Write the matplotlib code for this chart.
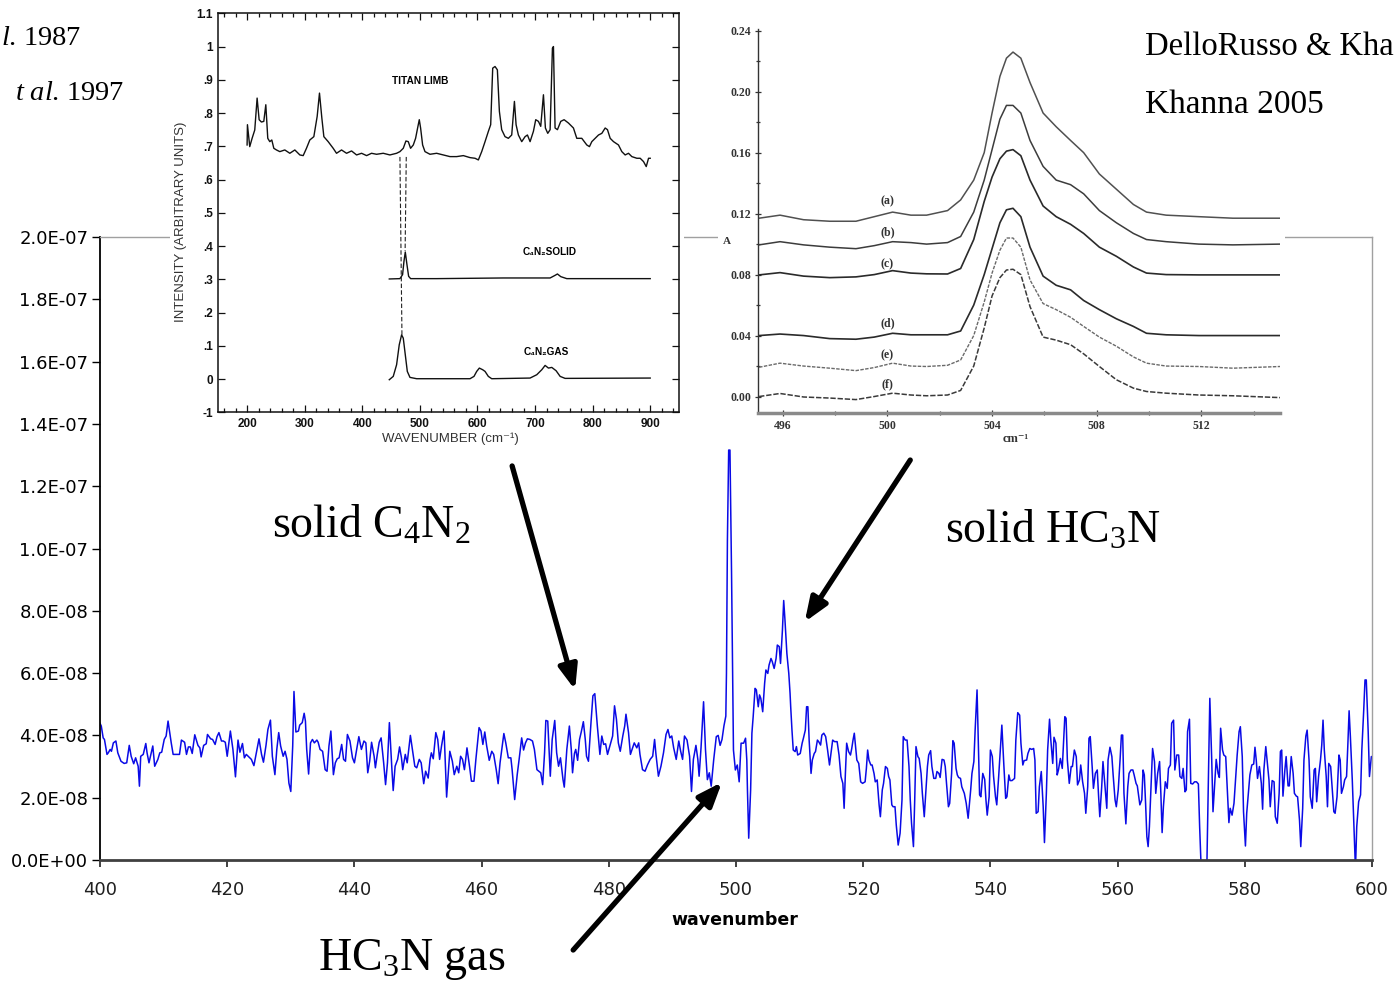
import numpy as np
import matplotlib
matplotlib.use("Agg")
import matplotlib.pyplot as plt
from matplotlib.patches import Rectangle
from matplotlib.ticker import FuncFormatter, MultipleLocator, FixedLocator

plt.rcParams['mathtext.fontset'] = 'custom'
plt.rcParams['mathtext.rm'] = 'Liberation Serif'
plt.rcParams['mathtext.it'] = 'Liberation Serif:italic'
plt.rcParams['mathtext.bf'] = 'Liberation Serif:bold'

# ---------------- main spectrum (wavenumber, intensity in 1e-9 units) ----------------
seg1_wn = [400.0, 400.2, 400.5, 400.7, 401.1, 401.3, 401.6, 401.8, 402.1, 402.5,
           402.8, 403.3, 403.8, 404.2, 404.6, 404.9, 405.3, 405.6, 406.0, 406.2,
           406.4, 406.8, 407.2, 407.4, 407.7, 408.0, 408.3, 408.6, 409.1, 409.4,
           409.7, 410.1, 410.4, 410.7, 411.2, 411.5, 411.9, 412.5, 412.8, 413.3,
           413.6, 413.9, 414.2, 414.5, 414.9, 415.4, 415.7, 415.9, 416.3, 416.7,
           416.9, 417.4, 417.7, 418.1, 418.4, 418.7, 419.1, 419.4, 419.7, 420.0,
           420.5, 420.9, 421.3, 421.7, 422.0, 422.4, 422.7, 423.0, 423.4, 423.8,
           424.2, 424.6, 425.0, 425.4, 425.7, 426.1, 426.4, 426.8, 427.1, 427.5,
           427.8, 428.1, 428.4, 428.8, 429.1, 429.4, 429.7, 430.0, 430.3, 430.5,
           430.8, 431.2, 431.4, 431.8, 432.1, 432.3, 432.5, 432.8, 433.1, 433.4,
           433.7, 434.1, 434.3, 434.6, 435.0, 435.4, 435.7, 436.0, 436.3, 436.7,
           437.0, 437.3, 437.6, 438.0, 438.3, 438.6, 438.9, 439.3, 439.7, 440.0,
           440.4, 440.7, 441.1, 441.5, 441.8, 442.1, 442.4, 442.7, 443.1, 443.3,
           443.6, 443.9, 444.2, 444.6, 444.9, 445.2, 445.5, 445.9, 446.1, 446.4,
           446.8, 447.1, 447.4, 447.6, 448.0, 448.3, 448.8, 449.2, 449.5, 449.8,
           450.2, 450.5, 450.9, 451.2]
seg1_val = [43.9, 43.0, 39.2, 38.7, 33.9, 34.4, 35.5, 34.9, 37.6, 38.2,
            34.4, 31.7, 31.0, 31.2, 36.8, 33.3, 30.9, 32.8, 30.1, 23.7,
            33.3, 33.9, 37.4, 34.4, 31.2, 33.9, 36.6, 30.1, 32.3, 34.4,
            34.6, 38.7, 39.8, 44.6, 37.6, 33.9, 33.9, 33.9, 38.5, 37.8,
            33.9, 36.3, 36.3, 34.2, 40.2, 36.8, 36.0, 33.1, 36.8, 37.3,
            40.3, 38.9, 38.7, 37.1, 39.6, 40.9, 38.2, 38.2, 37.8, 33.3,
            41.4, 35.5, 26.7, 38.5, 34.6, 37.4, 32.8, 33.9, 33.1, 32.3,
            30.3, 34.6, 38.9, 33.9, 31.4, 36.8, 41.9, 44.9, 33.3, 27.4,
            35.5, 40.9, 36.6, 33.3, 34.9, 32.3, 24.7, 22.0, 36.6, 54.1,
            41.1, 41.4, 43.3, 44.1, 47.1, 44.6, 35.5, 27.6, 37.6, 38.7,
            37.6, 38.5, 37.8, 35.5, 34.9, 29.0, 28.5, 36.6, 41.4, 27.4,
            31.2, 32.5, 32.8, 37.1, 32.3, 31.7, 40.3, 38.2, 32.8, 31.2,
            36.0, 39.6, 35.5, 38.2, 37.6, 28.0, 31.7, 37.8, 33.3, 29.6,
            33.9, 37.8, 39.2, 31.2, 24.2, 31.2, 44.1, 29.0, 22.3, 30.1,
            32.3, 36.3, 32.8, 29.0, 33.9, 31.2, 40.0, 34.4, 30.1, 29.6,
            32.3, 31.2, 24.5, 28.5]

seg2_wn = [451.6, 451.9, 452.1, 452.4, 452.8, 453.1, 453.4, 453.7, 454.1, 454.5,
           455.0, 455.4, 455.7, 456.1, 456.4, 456.7, 457.0, 457.3, 457.5, 457.7,
           458.1, 458.4, 458.8, 459.1, 459.6, 459.9, 460.2, 460.5, 460.8, 461.2,
           461.6, 461.9, 462.3, 462.6, 462.9, 463.3, 463.5, 463.8, 464.2, 464.6,
           464.8, 465.2, 465.6, 465.9, 466.3, 466.6, 466.9, 467.2, 467.6, 468.0,
           468.3, 468.7, 469.0, 469.3, 469.6, 469.9, 470.1, 470.4, 470.8, 471.1,
           471.5, 471.8, 472.1, 472.4, 472.8, 473.0, 473.4, 473.8, 474.1, 474.3,
           474.6, 474.8, 475.1, 475.4, 475.7, 476.0, 476.3, 476.5, 476.8, 477.2,
           477.5, 477.8, 478.2, 478.6, 478.9, 479.2, 479.5, 479.8, 480.2, 480.6,
           480.9, 481.2, 481.5, 481.8, 482.2, 482.5, 482.7, 483.1, 483.4, 483.7,
           484.0, 484.4, 484.7, 484.9, 485.3, 485.7, 486.1, 486.5, 486.9, 487.2,
           487.4, 487.8, 488.2, 488.6, 489.0, 489.3, 489.6, 489.9, 490.2, 490.6,
           491.0, 491.3, 491.6, 491.9, 492.3, 492.7, 493.0, 493.3, 493.7, 494.0,
           494.2, 494.5, 494.9, 495.2, 495.5, 495.8, 496.1, 496.5, 496.9, 497.2,
           497.5, 497.8, 498.1, 498.4]
seg2_val = [26.3, 32.3, 34.4, 32.5, 40.9, 38.7, 32.3, 36.6, 41.4, 20.2,
            34.9, 31.7, 27.4, 30.1, 28.0, 33.3, 32.3, 29.0, 32.3, 36.0,
            30.1, 25.3, 25.3, 32.3, 42.5, 41.4, 37.1, 41.1, 36.6, 32.0,
            34.9, 33.9, 29.0, 24.5, 31.2, 37.6, 40.6, 37.6, 32.8, 32.8,
            29.0, 19.4, 27.4, 32.3, 39.2, 35.3, 37.6, 38.9, 38.7, 38.2,
            35.5, 29.0, 28.5, 28.0, 24.2, 34.4, 44.8, 44.6, 26.9, 38.7,
            44.8, 34.4, 30.1, 32.8, 25.8, 23.4, 35.5, 43.0, 35.5, 28.0,
            34.2, 35.5, 32.0, 38.7, 41.4, 44.4, 38.7, 33.3, 31.7, 44.1,
            52.7, 53.4, 43.0, 33.9, 39.8, 37.1, 37.3, 33.9, 36.8, 39.8,
            49.5, 45.2, 37.6, 34.9, 39.8, 43.0, 46.8, 40.9, 33.9, 35.7,
            37.6, 36.0, 37.6, 33.9, 29.0, 28.5, 30.6, 32.3, 33.3, 38.7,
            34.2, 26.9, 30.1, 34.4, 40.3, 41.9, 39.2, 39.8, 36.0, 32.3,
            38.2, 34.9, 32.3, 39.8, 38.5, 33.3, 22.0, 32.3, 36.8, 32.3,
            26.9, 36.0, 50.8, 35.5, 25.8, 28.0, 23.7, 32.3, 39.6, 40.0,
            36.8, 38.7, 43.0, 46.2]

seg3_wn = [498.5, 498.65, 498.85, 499.05, 499.3, 499.6, 499.9, 500.2, 500.5, 500.8,
           501.2, 501.5, 501.7, 501.8, 502.0, 502.3, 502.5, 502.7, 503.0, 503.2,
           503.5, 503.7, 503.9, 504.2, 504.5, 504.7, 505.0, 505.2, 505.5, 505.7,
           506.0, 506.3, 506.5, 506.8, 507.0, 507.3, 507.5, 507.7, 508.0, 508.3,
           508.5, 508.6, 508.8, 509.0, 509.3, 509.5, 509.7, 510.1, 510.4, 510.6,
           510.9, 511.1, 511.3, 511.5, 511.8, 512.0, 512.3, 512.5, 512.8, 513.0,
           513.3, 513.5, 513.8, 514.1, 514.4, 514.7, 515.0, 515.2, 515.5, 515.9,
           516.2, 516.5, 516.8, 517.0, 517.2, 517.4, 517.7, 518.0, 518.2, 518.4,
           518.6, 519.0, 519.3, 519.6, 519.9, 520.3, 520.5, 520.7, 520.9, 521.2,
           521.4, 521.7, 521.9, 522.2, 522.5, 522.7, 523.0, 523.2, 523.5, 523.8,
           524.0, 524.2, 524.5, 524.7, 525.0, 525.2, 525.5, 525.8]
seg3_val = [59.9, 102.7, 131.6, 131.6, 92.0, 35.3, 28.9, 30.5, 25.1, 37.5,
            37.5, 39.1, 32.1, 22.5, 7.0, 22.5, 40.7, 46.0, 55.1, 54.6,
            49.2, 53.0, 51.9, 47.6, 56.7, 61.0, 59.9, 62.6, 64.7, 63.7,
            61.5, 64.7, 69.0, 68.5, 63.1, 73.8, 83.3, 77.0, 66.3, 59.9,
            53.5, 49.2, 41.7, 35.3, 34.8, 36.4, 33.7, 34.2, 37.5, 39.1,
            41.7, 49.2, 49.2, 38.5, 27.8, 32.1, 34.2, 34.8, 38.5, 38.0,
            36.9, 40.1, 40.7, 39.6, 35.3, 30.5, 35.3, 38.5, 38.0, 38.0,
            33.7, 26.8, 24.6, 16.6, 27.8, 37.5, 34.8, 33.7, 35.8, 38.5,
            40.7, 32.1, 31.0, 25.1, 24.6, 25.1, 29.4, 35.3, 32.1, 30.5,
            30.5, 27.8, 25.1, 25.7, 17.7, 13.9, 22.5, 24.6, 30.0, 29.4,
            26.8, 25.7, 17.7, 17.1, 17.1, 11.2, 4.8, 8.6]

seg4_wn = [526.1, 526.3, 526.6, 526.9, 527.2, 527.4, 527.6, 527.9, 528.1, 528.3,
           528.6, 528.8, 529.1, 529.3, 529.6, 529.8, 530.1, 530.3, 530.6, 530.8,
           531.1, 531.4, 531.6, 531.9, 532.1, 532.4, 532.7, 532.9, 533.1, 533.4,
           533.6, 533.9, 534.1, 534.3, 534.6, 534.8, 535.0, 535.3, 535.5, 535.9,
           536.2, 536.5, 536.9, 537.1, 537.4, 537.6, 537.9, 538.1, 538.3, 538.5,
           538.8, 539.1, 539.3, 539.5, 539.8, 540.0, 540.3, 540.5, 540.8, 541.0,
           541.3, 541.6, 541.8, 542.1, 542.4, 542.6, 542.9, 543.1, 543.4, 543.8,
           544.0, 544.3, 544.6, 544.8, 545.1, 545.3, 545.7, 545.9, 546.2, 546.5,
           546.8, 547.0, 547.2, 547.5, 547.7, 548.0, 548.3, 548.5, 548.8, 549.0,
           549.3, 549.5, 549.8, 550.0, 550.3, 550.5, 550.7, 551.0, 551.3, 551.5,
           551.7, 551.9, 552.1, 552.4, 552.7, 552.9, 553.2, 553.5, 553.7, 554.0,
           554.2, 554.5, 554.8, 555.0, 555.3, 555.5, 555.7, 556.0, 556.2, 556.5,
           556.8, 557.0, 557.2, 557.5, 557.7, 558.0, 558.3, 558.5, 558.8, 559.1,
           559.3, 559.6, 559.8, 560.1, 560.4, 560.6, 560.8, 561.0, 561.3, 561.6,
           561.8, 562.1, 562.4, 562.6, 562.9, 563.1, 563.5]
seg4_val = [19.3, 39.6, 38.5, 38.5, 30.0, 19.3, 11.8, 4.3, 19.3, 36.4,
            33.2, 32.6, 27.8, 21.4, 13.9, 20.3, 30.0, 33.7, 35.1, 30.0,
            26.2, 26.2, 28.4, 27.8, 26.5, 32.3, 32.1, 30.0, 24.6, 17.1,
            18.2, 27.8, 38.3, 37.5, 29.4, 27.3, 26.5, 26.2, 23.5, 21.4,
            18.2, 13.4, 22.5, 27.8, 31.6, 41.7, 54.6, 37.5, 20.9, 20.3,
            27.8, 25.9, 19.3, 14.4, 20.3, 35.3, 33.2, 26.8, 20.3, 17.7,
            26.8, 36.9, 43.3, 31.0, 19.8, 20.3, 27.3, 25.5, 25.5, 26.2,
            38.5, 47.3, 46.5, 37.5, 30.5, 31.9, 32.1, 34.2, 35.8, 35.5,
            35.8, 32.1, 15.0, 15.5, 23.5, 28.4, 17.1, 5.6, 21.4, 35.3,
            45.2, 38.5, 31.0, 39.4, 37.5, 27.3, 28.9, 32.6, 29.4, 38.0,
            46.0, 45.5, 32.1, 24.6, 30.0, 30.0, 35.3, 33.2, 24.1, 25.7,
            30.5, 25.1, 21.4, 15.0, 23.5, 39.1, 39.6, 30.0, 23.0, 27.8,
            28.9, 20.9, 13.9, 23.5, 31.6, 24.1, 16.6, 32.1, 36.2, 33.2,
            27.3, 19.3, 17.1, 22.5, 32.6, 40.1, 40.1, 21.4, 11.6, 23.5,
            27.8, 28.9, 28.9, 27.3, 24.6, 23.8, 17.7]

seg5_wn = [563.8, 564.0, 564.2, 564.4, 564.6, 564.8, 565.0, 565.3, 565.5, 565.8,
           566.0, 566.3, 566.6, 566.8, 567.0, 567.2, 567.5, 567.8, 568.0, 568.3,
           568.5, 568.8, 569.0, 569.3, 569.6, 569.8, 570.1, 570.3, 570.6, 570.8,
           571.0, 571.3, 571.5, 571.8, 572.1, 572.4, 572.7, 572.9, 573.2, 574.0,
           574.5, 574.8, 575.0, 575.3, 575.5, 575.8, 576.0, 576.2, 576.5, 576.7,
           577.0, 577.3, 577.5, 577.7, 578.0, 578.3, 578.5, 578.8, 579.1, 579.3,
           579.6, 579.8, 580.1, 580.3, 580.6, 580.8, 581.1, 581.4, 581.6, 581.8,
           582.0, 582.3, 582.6, 582.8, 583.0, 583.3, 583.5, 583.8, 584.0, 584.3,
           584.6, 584.8, 585.1, 585.4, 585.6, 585.8, 586.0, 586.3, 586.5, 586.8,
           587.0, 587.3, 587.6, 587.8, 588.1, 588.3, 588.6, 588.8, 589.1, 589.3,
           589.6, 589.8, 590.1, 590.3, 590.6, 590.9, 591.1, 591.3, 591.6, 591.9,
           592.1, 592.3, 592.5, 592.8, 593.0, 593.2, 593.5, 593.7, 594.0, 594.2,
           594.5, 594.8, 595.0, 595.2, 595.5, 595.7, 596.0, 596.2, 596.4, 596.6,
           596.9, 597.2, 597.4, 597.6, 597.9, 598.2, 598.4, 598.7, 598.9, 599.1,
           599.4, 599.6, 599.9, 600.0]
seg5_val = [19.3, 28.9, 27.3, 18.2, 7.5, 4.3, 10.7, 25.7, 35.8, 31.6,
            21.4, 27.8, 31.6, 21.4, 8.8, 17.1, 25.1, 23.0, 29.4, 30.5,
            43.9, 44.9, 28.9, 33.7, 33.7, 26.8, 26.2, 29.4, 21.9, 22.5,
            41.2, 45.2, 24.6, 24.4, 25.1, 25.1, 24.4, 10.7, -6.0, -6.0,
            51.9, 32.1, 15.5, 25.7, 32.3, 27.8, 26.5, 42.3, 35.3, 33.7,
            33.2, 20.3, 12.0, 16.6, 14.4, 18.2, 24.6, 33.7, 41.2, 42.8,
            33.2, 15.5, 4.5, 15.0, 22.5, 27.3, 30.5, 30.8, 36.2, 32.1,
            26.2, 30.0, 24.6, 16.3, 28.9, 36.4, 32.1, 25.7, 17.1, 25.5,
            25.1, 13.9, 11.8, 21.4, 34.8, 35.3, 20.5, 28.9, 33.2, 23.8,
            23.8, 33.2, 27.8, 21.4, 20.5, 20.3, 12.8, 4.3, 16.6, 32.1,
            39.8, 41.7, 32.1, 20.3, 16.6, 28.9, 29.4, 18.7, 26.8, 32.1,
            36.9, 44.9, 35.3, 26.8, 17.1, 31.0, 30.0, 24.1, 15.5, 15.0,
            20.3, 33.7, 32.1, 21.4, 23.5, 25.7, 26.8, 36.9, 47.9, 39.6,
            25.7, 8.6, -3.0, 10.7, 18.7, 20.9, 35.3, 48.2, 57.8, 57.8,
            41.2, 26.8, 33.2, 33.2]
VAL_UNIT = 1e-9

x_ticks_main = [400, 420, 440, 460, 480, 500, 520, 540, 560, 580, 600]

# ---------------- left inset (Titan limb / C4N2) ----------------
titan_wn = [200.0, 200.6, 204.6, 208.7, 213.3, 217.4, 220.9, 224.9, 229.0, 232.5,
            235.9, 239.4, 242.9, 246.4, 251.0, 256.8, 265.5, 274.2, 282.9, 291.6,
            297.4, 303.1, 308.9, 315.9, 321.7, 325.7, 329.8, 333.3, 340.8, 349.5,
            355.3, 364.0, 372.7, 381.4, 390.1, 398.8, 407.5, 416.1, 424.8, 436.4,
            448.0, 459.6, 465.4, 471.2, 475.8, 479.9, 483.9, 488.6, 492.6, 496.1,
            499.0, 501.3, 504.8, 508.9, 517.6, 529.1, 540.7, 552.3, 563.9, 575.5,
            587.1, 595.8, 601.6, 607.4, 613.2, 619.0, 623.0, 626.5, 630.5, 634.6,
            638.1, 642.1, 647.9, 653.7, 659.5, 664.2, 667.1, 671.1, 676.9, 682.7,
            686.8, 691.4, 697.2, 701.2, 705.9, 709.9, 714.6, 718.0, 722.1, 726.2,
            730.2, 732.0, 734.8, 738.9, 744.7, 750.5, 758.0, 766.7, 772.5, 781.2,
            789.9, 794.5, 798.6, 804.4, 810.2, 816.0, 821.8, 825.8, 830.5, 836.3,
            844.9, 850.7, 856.5, 862.3, 868.1, 876.8, 882.6, 888.4, 893.1, 897.1,
            900.0]
titan_int = [0.704, 0.765, 0.699, 0.724, 0.749, 0.845, 0.780, 0.773, 0.775, 0.825,
             0.724, 0.714, 0.719, 0.694, 0.689, 0.684, 0.689, 0.679, 0.689, 0.674,
             0.672, 0.694, 0.719, 0.729, 0.790, 0.860, 0.785, 0.729, 0.714, 0.694,
             0.679, 0.689, 0.679, 0.686, 0.674, 0.679, 0.672, 0.679, 0.676, 0.679,
             0.674, 0.679, 0.684, 0.694, 0.716, 0.714, 0.694, 0.704, 0.724, 0.755,
             0.780, 0.755, 0.704, 0.684, 0.676, 0.679, 0.674, 0.669, 0.669, 0.672,
             0.666, 0.664, 0.659, 0.684, 0.714, 0.745, 0.765, 0.935, 0.940, 0.930,
             0.805, 0.750, 0.729, 0.724, 0.734, 0.835, 0.765, 0.734, 0.714, 0.729,
             0.734, 0.714, 0.745, 0.780, 0.775, 0.760, 0.855, 0.755, 0.739, 0.750,
             0.995, 1.000, 0.755, 0.750, 0.775, 0.780, 0.770, 0.755, 0.724, 0.724,
             0.704, 0.699, 0.714, 0.724, 0.734, 0.739, 0.755, 0.750, 0.724, 0.714,
             0.704, 0.684, 0.674, 0.679, 0.669, 0.664, 0.664, 0.654, 0.639, 0.664,
             0.664]
solid_wn = [446.9, 465.4, 470.0, 472.4, 474.7, 477.6, 480.5, 484.0, 529.1, 645.0,
            726.2, 734.9, 738.9, 744.7, 755.1, 900.0]
solid_int = [0.301, 0.302, 0.314, 0.354, 0.382, 0.344, 0.309, 0.302, 0.302, 0.304,
             0.304, 0.312, 0.316, 0.308, 0.302, 0.302]
gas_wn = [446.9, 453.8, 459.6, 464.2, 468.3, 471.2, 474.7, 478.2, 482.8, 494.4,
          587.1, 594.0, 598.7, 603.3, 609.1, 613.2, 618.9, 624.8, 691.4, 703.0,
          711.7, 717.5, 723.3, 729.1, 736.6, 743.6, 752.2, 900.0]
gas_int = [-0.002, 0.008, 0.043, 0.103, 0.133, 0.123, 0.073, 0.023, 0.005, 0.001,
           0.001, 0.008, 0.023, 0.033, 0.028, 0.023, 0.008, 0.001, 0.003, 0.013,
           0.028, 0.041, 0.033, 0.035, 0.025, 0.008, 0.002, 0.003]
dash1_wn, dash1_int = [465.4, 468.9], [0.668, 0.133]
dash2_wn, dash2_int = [476.4, 474.4], [0.668, 0.385]
left_yticks = [-0.1, 0, 0.1, 0.2, 0.3, 0.4, 0.5, 0.6, 0.7, 0.8, 0.9, 1.0, 1.1]
left_ylabels = ['-1', '0', '.1', '.2', '.3', '.4', '.5', '.6', '.7', '.8', '.9', '1', '1.1']
left_xticks = [200, 300, 400, 500, 600, 700, 800, 900]

# ---------------- right inset (solid HC3N, curves a-f) ----------------
hc3n_wn = [495.1, 495.9, 496.8, 497.8, 498.8, 499.5, 500.2, 500.9, 501.5, 502.3,
           502.8, 503.3, 503.7, 504.0, 504.3, 504.55, 504.8, 505.1, 505.45, 505.95,
           506.45, 507.0, 507.5, 508.1, 508.75, 509.4, 509.9, 510.65, 511.9, 513.2, 515.0]
curve_a = [0.117, 0.119, 0.116, 0.115, 0.115, 0.118, 0.121, 0.119, 0.119, 0.122,
           0.129, 0.142, 0.160, 0.186, 0.210, 0.222, 0.226, 0.222, 0.206, 0.186,
           0.177, 0.168, 0.160, 0.146, 0.136, 0.126, 0.121, 0.119, 0.118, 0.117, 0.117]
curve_b = [0.0995, 0.1016, 0.0995, 0.098, 0.097, 0.099, 0.1016, 0.101, 0.100, 0.101,
           0.105, 0.121, 0.142, 0.162, 0.182, 0.191, 0.191, 0.186, 0.168, 0.151,
           0.142, 0.139, 0.133, 0.122, 0.114, 0.107, 0.103, 0.1016, 0.100, 0.0995, 0.100]
curve_c = [0.0798, 0.0813, 0.079, 0.078, 0.0785, 0.080, 0.0826, 0.081, 0.0805, 0.0804,
           0.084, 0.103, 0.128, 0.144, 0.156, 0.161, 0.162, 0.158, 0.142, 0.125,
           0.118, 0.113, 0.107, 0.098, 0.092, 0.085, 0.081, 0.080, 0.0798, 0.0798, 0.0798]
curve_d = [0.040, 0.041, 0.040, 0.038, 0.0376, 0.039, 0.0415, 0.0405, 0.0405, 0.0405,
           0.043, 0.060, 0.080, 0.097, 0.114, 0.1225, 0.1235, 0.118, 0.098, 0.079,
           0.073, 0.070, 0.063, 0.057, 0.051, 0.046, 0.0415, 0.0405, 0.040, 0.040, 0.040]
curve_e = [0.0192, 0.0219, 0.020, 0.0186, 0.017, 0.019, 0.0219, 0.020, 0.0197, 0.0205,
           0.024, 0.040, 0.062, 0.081, 0.096, 0.104, 0.104, 0.098, 0.0765, 0.061,
           0.057, 0.052, 0.046, 0.039, 0.033, 0.026, 0.0219, 0.020, 0.0197, 0.0186, 0.0197]
curve_f = [0.000, 0.002, -0.0003, -0.001, -0.002, 0.0, 0.0022, 0.001, 0.0005, 0.001,
           0.004, 0.020, 0.045, 0.066, 0.078, 0.083, 0.0835, 0.080, 0.059, 0.039,
           0.037, 0.034, 0.028, 0.0197, 0.011, 0.0055, 0.0033, 0.0022, 0.001, 0.0005, -0.0007]
curve_names = ['(a)', '(b)', '(c)', '(d)', '(e)', '(f)']
curve_label_y = [0.128, 0.108, 0.087, 0.048, 0.027, 0.008]
right_yticks = [0.00, 0.04, 0.08, 0.12, 0.16, 0.20, 0.24]
right_xticks = [496, 500, 504, 508, 512]

# annotation arrows (head, tail) in main-axes data units
arrow_heads = [(474.7, 54.6e-9), (510.8, 76.4e-9), (497.8, 25.0e-9)]
arrow_tails = [(464.8, 126.5e-9), (527.4, 128.4e-9), (474.4, -28.9e-9)]

# ---------------- figure ----------------
W, H = 1397, 982
fig = plt.figure(figsize=(W / 100, H / 100), dpi=100)


def fx(px):
    return px / W


def fy(py):
    return 1 - py / H


# main axes
ax = fig.add_axes([fx(100), fy(860), fx(1372) - fx(100), fy(237) - fy(860)])
ax.set_zorder(0)
wn = np.concatenate([seg1_wn, seg2_wn, seg3_wn, seg4_wn, seg5_wn])
val = np.concatenate([seg1_val, seg2_val, seg3_val, seg4_val, seg5_val]) * VAL_UNIT
ax.plot(wn, val, color='#0a0ae6', lw=1.1)
ax.set_xlim(400, 600)
ax.set_ylim(0, 2e-7)
ax.xaxis.set_major_locator(FixedLocator(x_ticks_main))
ax.yaxis.set_major_locator(MultipleLocator(2e-8))
ax.yaxis.set_major_formatter(FuncFormatter(lambda v, p: f"{v:.1E}"))
ax.spines['left'].set_color('black')
ax.spines['left'].set_linewidth(1.3)
ax.spines['bottom'].set_color('#404040')
ax.spines['bottom'].set_linewidth(2.0)
for s in ('top', 'right'):
    ax.spines[s].set_color('#a0a0a0')
    ax.spines[s].set_linewidth(1.0)
ax.tick_params(axis='y', direction='out', length=5.5, width=1, labelsize=13, pad=3, colors='black')
ax.tick_params(axis='x', direction='out', length=5, width=1.2, labelsize=13, pad=10, colors='#202020')
fig.text(fx(735), fy(920), 'wavenumber', ha='center', va='center', fontsize=12.5, fontweight='bold')

for (hx, hy), (tx, ty) in zip(arrow_heads, arrow_tails):
    ax.annotate('', xy=(hx, hy), xytext=(tx, ty), xycoords='data', textcoords='data',
                annotation_clip=False,
                arrowprops=dict(arrowstyle='-|>,head_length=0.9,head_width=0.35', lw=3.8,
                                color='black', shrinkA=0, shrinkB=0, mutation_scale=16))

# white backgrounds of the pasted figures
fig.add_artist(Rectangle((fx(170), fy(450)), fx(684) - fx(170), fy(0) - fy(450),
                         transform=fig.transFigure, facecolor='white', edgecolor='none', zorder=1))
fig.add_artist(Rectangle((fx(718), fy(446)), fx(1285) - fx(718), fy(18) - fy(446),
                         transform=fig.transFigure, facecolor='white', edgecolor='none', zorder=1))

# ---- left inset ----
sans = ['Liberation Sans', 'DejaVu Sans']
ax1 = fig.add_axes([fx(218.3), fy(412.3), fx(679) - fx(218.3), fy(13.3) - fy(412.3)])
ax1.set_zorder(2)
ax1.plot(titan_wn, titan_int, color='#111111', lw=1.0)
ax1.plot(solid_wn, solid_int, color='#111111', lw=1.0)
ax1.plot(gas_wn, gas_int, color='#111111', lw=1.0)
ax1.plot(dash1_wn, dash1_int, color='#222222', lw=0.8, ls=(0, (4, 2)))
ax1.plot(dash2_wn, dash2_int, color='#222222', lw=0.8, ls=(0, (4, 2)))
ax1.set_xlim(150, 950)
ax1.set_ylim(-0.1, 1.1)
ax1.xaxis.set_major_locator(FixedLocator(left_xticks))
ax1.xaxis.set_minor_locator(MultipleLocator(20))
ax1.yaxis.set_major_locator(FixedLocator(left_yticks))
ax1.set_yticklabels(left_ylabels)
ax1.tick_params(which='both', direction='in', top=True, right=True, width=0.9, colors='#111111')
ax1.tick_params(which='major', length=5, labelsize=8.5, pad=4)
ax1.tick_params(which='minor', length=3)
for lab in ax1.get_xticklabels() + ax1.get_yticklabels():
    lab.set_family(sans)
    lab.set_fontweight('bold')
for s in ax1.spines.values():
    s.set_linewidth(1.1)
    s.set_color('#111111')
ax1.text(500, 0.895, 'TITAN LIMB', ha='center', va='center', fontsize=7.3, fontweight='bold', family=sans)
ax1.text(726, 0.382, 'C\u2084N\u2082SOLID', ha='center', va='center', fontsize=7.2, fontweight='bold', family=sans)
ax1.text(720, 0.080, 'C\u2084N\u2082GAS', ha='center', va='center', fontsize=7.2, fontweight='bold', family=sans)
fig.text(fx(181), fy(222), 'INTENSITY (ARBITRARY UNITS)', rotation=90, ha='center', va='center',
         fontsize=9.5, family=sans, color='#333333', zorder=3)
fig.text(fx(450), fy(439), 'WAVENUMBER (cm\u207b\u00b9)', ha='center', va='center',
         fontsize=9.5, family=sans, color='#333333', zorder=3)

# ---- right inset ----
serifb = dict(family='Liberation Serif', fontweight='bold')
ax2 = fig.add_axes([fx(758.3), fy(413.3), fx(1280) - fx(758.3), fy(29.2) - fy(413.3)])
ax2.set_zorder(2)
ax2.patch.set_alpha(0)
styles = [dict(color='#505050', lw=1.1), dict(color='#3c3c3c', lw=1.1), dict(color='#2a2a2a', lw=1.2),
          dict(color='#2a2a2a', lw=1.2), dict(color='#6a6a6a', lw=1.0, ls=(0, (2.5, 1))),
          dict(color='#3a3a3a', lw=1.1, ls=(0, (3.5, 1.2)))]
for cv, st in zip([curve_a, curve_b, curve_c, curve_d, curve_e, curve_f], styles):
    ax2.plot(hc3n_wn, cv, **st)
for nm, ly in zip(curve_names, curve_label_y):
    ax2.text(500.0, ly, nm, ha='center', va='center', fontsize=8.5, color='#333333', **serifb)
ax2.set_xlim(495.07, 515.0)
ax2.set_ylim(-0.011, 0.241)
ax2.xaxis.set_major_locator(FixedLocator(right_xticks))
ax2.xaxis.set_minor_locator(FixedLocator([498, 502, 506, 510, 514]))
ax2.yaxis.set_major_locator(FixedLocator(right_yticks))
ax2.yaxis.set_minor_locator(MultipleLocator(0.02))
ax2.yaxis.set_major_formatter(FuncFormatter(lambda v, p: f"{v:.2f}"))
ax2.spines['top'].set_visible(False)
ax2.spines['right'].set_visible(False)
ax2.spines['left'].set_color('#333333')
ax2.spines['left'].set_linewidth(1.0)
ax2.spines['bottom'].set_color('#8a8a8a')
ax2.spines['bottom'].set_linewidth(2.5)
ax2.tick_params(which='both', direction='inout', colors='#333333', width=0.9)
ax2.tick_params(which='major', length=4, labelsize=8.5, pad=3)
ax2.tick_params(which='minor', length=2.5)
for lab in ax2.get_xticklabels() + ax2.get_yticklabels():
    lab.set_family('Liberation Serif')
    lab.set_fontweight('bold')
fig.text(fx(1016), fy(439), 'cm\u207b\u00b9', ha='center', va='center', fontsize=9,
         family=['Liberation Serif', 'DejaVu Serif'], fontweight='bold', color='#333333', zorder=3)
fig.text(fx(727), fy(242), 'A', ha='center', va='center', fontsize=8, color='#333333', zorder=3, **serifb)

# ---- big annotation texts ----
big = dict(family='Liberation Serif', zorder=4)
fig.text(fx(272), fy(538), r'solid C$_4$N$_2$', ha='left', va='baseline', fontsize=33, **big)
fig.text(fx(945), fy(543), r'solid HC$_3$N', ha='left', va='baseline', fontsize=33, **big)
fig.text(fx(318), fy(970), r'HC$_3$N gas', ha='left', va='baseline', fontsize=33, **big)
# reference citations, of which only these parts are visible at the image edges
fig.text(fx(81), fy(45), r'$\mathit{l}$. 1987', ha='right', va='baseline', fontsize=20.5, **big)
fig.text(fx(124), fy(100), r'$\mathit{t\ al}$. 1997', ha='right', va='baseline', fontsize=20.5, **big)
fig.text(fx(1145), fy(55), 'DelloRusso & Kha', ha='left', va='baseline', fontsize=23.5, **big)
fig.text(fx(1145), fy(113), 'Khanna 2005', ha='left', va='baseline', fontsize=24, **big)

fig.savefig('out.png', dpi=100)
